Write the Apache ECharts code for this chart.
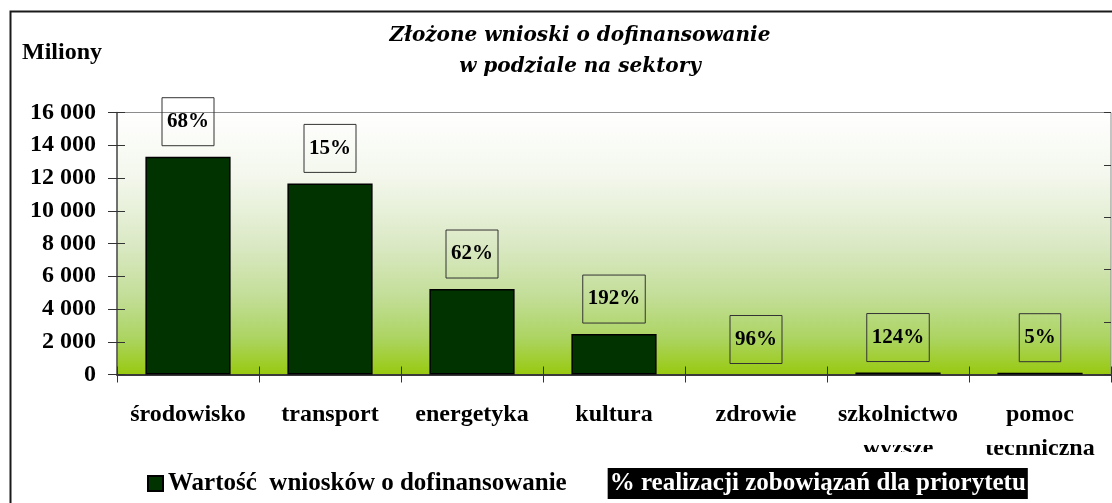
<!DOCTYPE html>
<html>
<head>
<meta charset="utf-8">
<script src="https://cdn.jsdelivr.net/npm/echarts@6/dist/echarts.min.js"></script>
<style>
  html, body { margin: 0; padding: 0; background: #fff; }
  #chart { width: 1112px; height: 503px; }
</style>
</head>
<body>
<div id="chart"></div>
<script>
// ---- data ----
const categories = ['środowisko', 'transport', 'energetyka', 'kultura', 'zdrowie', 'szkolnictwo\nwyższe', 'pomoc\ntechniczna'];
const values = [13300, 11670, 5220, 2470, 0, 120, 110];          // Wartość wniosków (mln)
const realizacja = [68, 15, 62, 192, 96, 124, 5];                 // % realizacji zobowiązań
const yMin = 0, yMax = 16000, yStep = 2000;
const y2Min = 0, y2Max = 2.5, y2Step = 0.5;
const barName = 'Wartość  wniosków o dofinansowanie';
const pctName = '% realizacji zobowiązań dla priorytetu';
const titleText = 'Złożone wnioski o dofinansowanie\nw podziale na sektory';
const unitText = 'Miliony';

const SERIF = 'Liberation Serif';
const fmtThousands = v => String(v).replace(/\B(?=(\d{3})+(?!\d))/g, ' ');

const chart = echarts.init(document.getElementById('chart'), null, { renderer: 'canvas' });

const option = {
  backgroundColor: '#ffffff',
  animation: false,
  title: {
    text: titleText,
    left: 580,
    top: 20,
    textAlign: 'center',
    padding: 0,
    textStyle: {
      fontFamily: 'DejaVu Serif',
      fontStyle: 'italic',
      fontWeight: 'bold',
      fontSize: 20,
      lineHeight: 31,
      color: '#000'
    }
  },
  legend: {
    left: 147,
    top: 468,
    padding: 0,
    itemWidth: 15,
    itemHeight: 15,
    itemGap: 21,
    z: 20,
    selectedMode: false,
    data: [
      { name: barName, icon: 'rect' },
      { name: pctName, icon: 'rect', itemStyle: { color: 'rgba(0,0,0,0)', borderWidth: 0, opacity: 0 } }
    ],
    formatter: name => name === pctName ? '{inv|' + name + '}' : '{std|' + name + '}',
    textStyle: {
      fontFamily: SERIF,
      fontWeight: 'bold',
      fontSize: 25,
      color: '#000',
      rich: {
        std: { fontFamily: SERIF, fontWeight: 'bold', fontSize: 25, lineHeight: 24, color: '#000' },
        inv: { fontFamily: SERIF, fontWeight: 'bold', fontSize: 25, lineHeight: 24, color: '#fff',
               backgroundColor: '#000', padding: [3, 2, 3, 2] }
      }
    }
  },
  grid: {
    left: 117,
    right: 1,
    top: 112.5,
    bottom: 128.5,
    show: true,
    borderColor: '#8c8c8c',
    borderWidth: 1,
    backgroundColor: {
      type: 'linear', x: 0, y: 0, x2: 0, y2: 1,
      colorStops: [
        { offset: 0, color: '#ffffff' },
        { offset: 0.25, color: '#f3f7ec' },
        { offset: 0.5, color: '#dbe9c5' },
        { offset: 0.7, color: '#c3de98' },
        { offset: 0.86, color: '#acd462' },
        { offset: 1, color: '#98c90e' }
      ]
    }
  },
  xAxis: [
    {
      type: 'category',
      data: categories,
      position: 'bottom',
      axisLine: { show: true, lineStyle: { color: '#3a3a3a', width: 2 } },
      axisTick: { show: true, inside: false, length: 8, interval: 0, lineStyle: { color: '#333', width: 1 } },
      axisLabel: {
        interval: 0,
        margin: 23,
        fontFamily: SERIF,
        fontWeight: 'bold',
        fontSize: 24,
        lineHeight: 34,
        color: '#000'
      },
      splitLine: { show: false }
    },
    {
      type: 'category',
      data: categories,
      position: 'bottom',
      axisLine: { show: false },
      axisTick: { show: true, inside: true, length: 8, interval: 0, lineStyle: { color: '#333', width: 1 } },
      axisLabel: { show: false },
      splitLine: { show: false }
    }
  ],
  yAxis: [
    {
      type: 'value',
      position: 'left',
      min: yMin, max: yMax, interval: yStep,
      axisLine: { show: true, lineStyle: { color: '#555', width: 1.5 } },
      axisTick: { show: true, inside: false, length: 9, lineStyle: { color: '#333', width: 1 } },
      axisLabel: {
        margin: 21,
        formatter: fmtThousands,
        fontFamily: SERIF,
        fontWeight: 'bold',
        fontSize: 24,
        color: '#000'
      },
      splitLine: { show: false }
    },
    {
      type: 'value',
      position: 'right',
      min: y2Min, max: y2Max, interval: y2Step,
      axisLine: { show: false },
      axisTick: { show: true, inside: true, length: 7, lineStyle: { color: '#333', width: 1 } },
      axisLabel: { show: false },
      splitLine: { show: false }
    },
    {
      type: 'value',
      position: 'left',
      min: yMin, max: yMax, interval: yStep,
      axisLine: { show: false },
      axisTick: { show: true, inside: true, length: 8, lineStyle: { color: '#333', width: 1 } },
      axisLabel: { show: false },
      splitLine: { show: false }
    }
  ],
  series: [
    {
      name: barName,
      type: 'bar',
      xAxisIndex: 0,
      yAxisIndex: 0,
      barWidth: '60%',
      data: values.map(v => v > 0 ? v : { value: v, itemStyle: { borderWidth: 0 } }),
      itemStyle: { color: '#003300', borderColor: '#000', borderWidth: 1.5 },
      label: {
        show: true,
        position: 'top',
        distance: 11,
        formatter: p => realizacja[p.dataIndex] + '%',
        fontFamily: SERIF,
        fontWeight: 'bold',
        fontSize: 21,
        lineHeight: 22,
        color: '#000',
        borderColor: '#333',
        borderWidth: 1,
        padding: [13, 5, 13, 5]
      }
    },
    {
      name: pctName,
      type: 'line',
      xAxisIndex: 0,
      yAxisIndex: 1,
      data: [],
      showSymbol: false,
      lineStyle: { opacity: 0 }
    }
  ],
  graphic: [
    { type: 'rect', z: 1, silent: true,
      shape: { x: 10.5, y: 11.5, width: 1300, height: 700 },
      style: { fill: 'none', stroke: '#1a1a1a', lineWidth: 2 } },
    { type: 'text', z: 5, silent: true, left: 22, top: 41,
      style: { text: unitText, fontFamily: SERIF, fontWeight: 'bold', fontSize: 24, fill: '#000' } },
    // white legend-box areas that cut the second line of long category labels
    { type: 'rect', z: 10, silent: true,
      shape: { x: 840, y: 429, width: 193, height: 16 }, style: { fill: '#fff' } },
    { type: 'rect', z: 10, silent: true,
      shape: { x: 840, y: 452, width: 136, height: 15 }, style: { fill: '#fff' } }
  ]
};

chart.setOption(option);
</script>
</body>
</html>
